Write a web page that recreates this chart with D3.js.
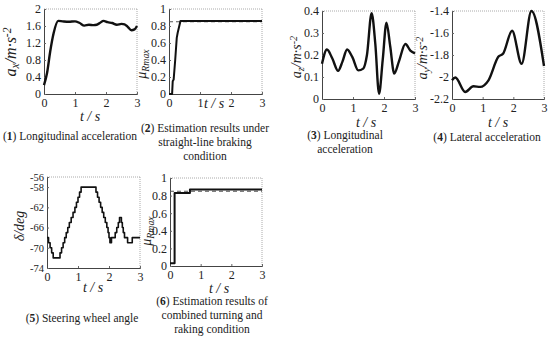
<!DOCTYPE html>
<html>
<head>
<meta charset="utf-8">
<script src="https://cdn.jsdelivr.net/npm/d3@7"></script>
<style>
  body { margin: 0; background: #fff; }
  text { font-family: "Liberation Serif", "Times New Roman", serif; fill: #222; }
</style>
</head>
<body>
<svg id="fig" width="550" height="341"></svg>
<script>
// ---- data ----
var xTicks = [0, 1, 2, 3];

// (1) longitudinal acceleration, straight-line braking
var accT1 = [0, 0.1, 0.2, 0.31, 0.46, 0.6, 0.8, 1.0, 1.15, 1.3, 1.45, 1.6, 1.7, 1.8, 1.92, 2.05, 2.2, 2.35, 2.5, 2.6, 2.7, 2.82, 2.92, 3.0];
var accV1 = [0.21, 0.5, 1.0, 1.43, 1.72, 1.71, 1.7, 1.71, 1.67, 1.61, 1.63, 1.62, 1.63, 1.67, 1.72, 1.69, 1.67, 1.63, 1.65, 1.64, 1.58, 1.5, 1.52, 1.6];
var accTicks1 = [0, 0.4, 0.8, 1.2, 1.6, 2];

// (2) estimated road friction, straight-line braking
var muT2 = [0, 0.1, 0.12, 0.15, 0.2, 0.25, 0.28, 0.37, 3];
var muV2 = [0, 0, 0.15, 0.17, 0.4, 0.66, 0.72, 0.86, 0.86];
var muRef2 = 0.85;
var muTicks = [0, 0.2, 0.4, 0.6, 0.8, 1];

// (3) longitudinal acceleration, combined condition
var accT3 = [0, 0.16, 0.33, 0.52, 0.66, 0.81, 0.98, 1.17, 1.33, 1.45, 1.6, 1.72, 1.84, 1.96, 2.08, 2.2, 2.33, 2.48, 2.69, 2.85, 3];
var accV3 = [0.16, 0.225, 0.185, 0.128, 0.17, 0.225, 0.19, 0.13, 0.138, 0.2, 0.39, 0.25, 0.024, 0.18, 0.347, 0.24, 0.116, 0.17, 0.25, 0.22, 0.207];
var accTicks3 = [0, 0.1, 0.2, 0.3, 0.4];

// (4) lateral acceleration
var latT4 = [0, 0.11, 0.43, 0.7, 0.92, 1.19, 1.51, 1.67, 1.96, 2.27, 2.59, 3];
var latV4 = [-2.03, -2.005, -2.136, -2.084, -2.09, -2.03, -1.817, -1.786, -1.58, -1.88, -1.4, -1.9];
var latTicks4 = [-2.2, -2, -1.8, -1.6, -1.4];

// (5) steering wheel angle (stepwise)
var steerT5 = [0, 0.05, 0.1, 0.15, 0.2, 0.42, 0.47, 0.52, 0.57, 0.62, 0.67, 0.72, 0.78, 0.84, 0.9, 0.95, 1.0, 1.05, 1.1, 1.58, 1.63, 1.68, 1.73, 1.78, 1.83, 1.88, 1.93, 1.97, 2.0, 2.03, 2.08, 2.2, 2.25, 2.3, 2.34, 2.4, 2.43, 2.46, 2.5, 2.6, 2.75, 3.0];
var steerV5 = [-68, -69, -70, -71, -72, -71, -70, -69, -68, -67, -66, -65, -64, -63, -62, -61, -60, -59, -58, -59, -60, -61, -62, -63, -64, -65, -66, -67, -68, -69, -68, -67, -66, -65, -64, -65, -66, -67, -68, -69, -68, -68];
var steerTicks5 = [-74, -70, -66, -62, -58, -56];

// (6) estimated road friction, combined condition
var muT6 = [0, 0.15, 0.15, 0.65, 0.65, 3];
var muV6 = [0.03, 0.03, 0.83, 0.83, 0.87, 0.87];
var muRef6 = 0.85;

// ---- layout ----
var svg = d3.select("#fig");

function zip(ts, vs) { return ts.map(function (t, i) { return [t, vs[i]]; }); }

function panel(opt) {
  var g = svg.append("g");
  var x = d3.scaleLinear().domain([0, 3]).range([opt.x0, opt.x1]);
  var y = d3.scaleLinear().domain(opt.yDomain).range([opt.y1, opt.y0]);

  // box: top/right light, left/bottom dark
  g.append("line").attr("x1", opt.x0).attr("x2", opt.x1).attr("y1", opt.y0).attr("y2", opt.y0)
    .attr("stroke", "#aaa").attr("stroke-width", 1).attr("stroke-dasharray", "1,1");
  g.append("line").attr("x1", opt.x1).attr("x2", opt.x1).attr("y1", opt.y0).attr("y2", opt.y1)
    .attr("stroke", "#aaa").attr("stroke-width", 1).attr("stroke-dasharray", "1,1");

  var xa = g.append("g").attr("transform", "translate(0," + opt.y1 + ")")
    .call(d3.axisBottom(x).tickValues(xTicks).tickSize(-2).tickPadding(4).tickFormat(d3.format("d")));
  var ya = g.append("g").attr("transform", "translate(" + opt.x0 + ",0)")
    .call(d3.axisLeft(y).tickValues(opt.yTicks).tickSize(-2).tickPadding(3).tickFormat(function (d) { return String(+d.toFixed(2)); }));
  [xa, ya].forEach(function (a) {
    a.select(".domain").attr("stroke", "#444").attr("stroke-width", 1);
    a.selectAll(".tick line").attr("stroke", "#666");
    a.selectAll("text").style("font-family", "Liberation Serif, serif").style("font-size", "12px").attr("fill", "#222");
  });
  if (opt.yfs) ya.selectAll("text").style("font-size", opt.yfs + "px");

  if (opt.ref !== undefined) {
    g.append("line").attr("x1", x(0)).attr("x2", x(3)).attr("y1", y(opt.ref)).attr("y2", y(opt.ref))
      .attr("stroke", "#555").attr("stroke-width", 1.1).attr("stroke-dasharray", "4,3");
  }

  var line = d3.line().x(function (d) { return x(d[0]); }).y(function (d) { return y(d[1]); })
    .curve(opt.curve || d3.curveLinear);
  g.append("path").datum(zip(opt.t, opt.v)).attr("d", line)
    .attr("fill", "none").attr("stroke", "#111").attr("stroke-width", opt.lw || 2)
    .attr("stroke-linejoin", "round");

  // x label
  var tl = g.append("text").attr("x", opt.tx).attr("y", opt.ty).attr("text-anchor", "middle")
    .style("font-size", "14px").style("font-style", "italic").text("t / s");
  if (opt.clipT) {
    var id = "clip" + opt.id;
    svg.append("clipPath").attr("id", id).append("rect")
      .attr("x", opt.tx - 20).attr("y", opt.clipT).attr("width", 40).attr("height", 20);
    tl.attr("clip-path", "url(#" + id + ")").attr("fill", "#777");
  }

  // y label
  var yl = g.append("text").attr("transform", "translate(" + opt.lx + "," + opt.ly + ") rotate(-90)")
    .attr("text-anchor", "middle").style("font-size", (opt.lfs || 14) + "px").style("font-style", "italic");
  opt.ylab(yl);

  // caption
  opt.cap.forEach(function (c, i) {
    var t = g.append("text").attr("x", opt.cx).attr("y", opt.cy + i * 13.8).attr("text-anchor", "middle")
      .style("font-size", "11.5px");
    if (i === 0) {
      t.append("tspan").text("(");
      t.append("tspan").style("font-weight", "bold").text(opt.id);
      t.append("tspan").text(") " + c);
    } else {
      t.text(c);
    }
  });
}

function accLabel(sub) {
  return function (t) {
    t.append("tspan").text("a");
    t.append("tspan").attr("baseline-shift", "-25%").style("font-size", "0.72em").text(sub);
    t.append("tspan").text("/m·s");
    t.append("tspan").attr("baseline-shift", "40%").style("font-size", "0.72em").text("-2");
  };
}
function muLabel(t) {
  t.append("tspan").text("μ");
  t.append("tspan").attr("baseline-shift", "-25%").style("font-size", "0.7em").text("Rmax");
}

panel({ id: "1", x0: 44, x1: 137, y0: 9, y1: 94, yDomain: [0, 2], yTicks: accTicks1,
  t: accT1, v: accV1, curve: d3.curveMonotoneX, lw: 2.4,
  tx: 90, ty: 121, lx: 16, ly: 52, lfs: 16, ylab: accLabel("x"),
  cx: 70, cy: 140, cap: ["Longitudinal acceleration"] });

panel({ id: "2", x0: 169, x1: 262, y0: 9, y1: 94, yDomain: [0, 1], yTicks: muTicks,
  t: muT2, v: muV2, lw: 2, ref: muRef2,
  tx: 214, ty: 108, lx: 146, ly: 64, ylab: muLabel,
  cx: 205, cy: 132, cap: ["Estimation results under", "straight-line braking", "condition"] });

panel({ id: "3", x0: 322, x1: 415, y0: 11, y1: 99, yDomain: [0, 0.4], yTicks: accTicks3,
  t: accT3, v: accV3, curve: d3.curveMonotoneX, lw: 2.4,
  tx: 366, ty: 127, clipT: 117, lx: 301, ly: 57, ylab: accLabel("z"),
  cx: 345, cy: 139, cap: ["Longitudinal", "acceleration"] });

panel({ id: "4", x0: 452, x1: 544, y0: 11, y1: 99, yDomain: [-2.2, -1.4], yTicks: latTicks4,
  t: latT4, v: latV4, curve: d3.curveMonotoneX, lw: 2.4,
  tx: 498, ty: 127, clipT: 117, lx: 427, ly: 58, ylab: accLabel("y"),
  cx: 487, cy: 141, cap: ["Lateral acceleration"] });

panel({ id: "5", x0: 47, x1: 140, y0: 177, y1: 268, yDomain: [-74, -56], yTicks: steerTicks5,
  t: steerT5, v: steerV5, curve: d3.curveStepAfter, lw: 1.6, yfs: 10.5,
  tx: 93, ty: 292, lx: 24, ly: 226, ylab: function (t) { t.text("δ/deg"); },
  cx: 82, cy: 322, cap: ["Steering wheel angle"] });

panel({ id: "6", x0: 170, x1: 262, y0: 178, y1: 266, yDomain: [0, 1], yTicks: muTicks,
  t: muT6, v: muV6, lw: 2, ref: muRef6,
  tx: 219, ty: 293, lx: 151, ly: 231, ylab: muLabel,
  cx: 212, cy: 305, cap: ["Estimation results of", "combined turning and", "raking condition"] });
</script>
</body>
</html>
